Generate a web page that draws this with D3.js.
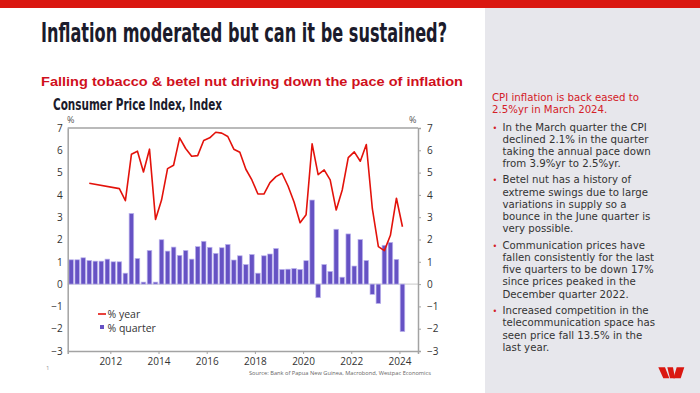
<!DOCTYPE html>
<html>
<head>
<meta charset="utf-8">
<script src="https://d3js.org/d3.v7.min.js"></script>
<style>
  body { margin: 0; background: #fff; }
  svg { display: block; }
  .tick text { font-family: "Open Sans", Lato, sans-serif; font-size: 10px; fill: #333; }
</style>
</head>
<body>
<div id="chart"></div>
<script>
'use strict';

// quarters from June 2010 to March 2024
const quarters = [
  "2010Q2", "2010Q3", "2010Q4",
  "2011Q1", "2011Q2", "2011Q3", "2011Q4",
  "2012Q1", "2012Q2", "2012Q3", "2012Q4",
  "2013Q1", "2013Q2", "2013Q3", "2013Q4",
  "2014Q1", "2014Q2", "2014Q3", "2014Q4",
  "2015Q1", "2015Q2", "2015Q3", "2015Q4",
  "2016Q1", "2016Q2", "2016Q3", "2016Q4",
  "2017Q1", "2017Q2", "2017Q3", "2017Q4",
  "2018Q1", "2018Q2", "2018Q3", "2018Q4",
  "2019Q1", "2019Q2", "2019Q3", "2019Q4",
  "2020Q1", "2020Q2", "2020Q3", "2020Q4",
  "2021Q1", "2021Q2", "2021Q3", "2021Q4",
  "2022Q1", "2022Q2", "2022Q3", "2022Q4",
  "2023Q1", "2023Q2", "2023Q3", "2023Q4",
  "2024Q1"
];

// % quarter (bars)
const pctQuarter = [
  1.09, 1.09, 1.18,
  1.06, 1.03, 1.03, 1.12,
  1.00, 1.00, 0.49, 3.17,
  1.15, 0.09, 1.51, 0.09,
  1.99, 1.48, 1.66, 1.29,
  1.51, 1.12, 1.68, 1.92,
  1.65, 1.38, 1.63, 1.78,
  1.08, 1.27, 0.88, 1.33,
  0.49, 1.27, 1.35, 1.60,
  0.66, 0.67, 0.70, 0.66,
  1.05, 3.77, -0.61, 0.88,
  0.57, 2.46, 0.31, 2.25,
  0.81, 2.00, 1.06, -0.46,
  -0.87, 1.74, 1.87, 1.11,
  -2.13
];

// % year (line), null where not published
const pctYear = [
  null, null, null,
  4.52, null, null, null,
  null, 4.28, 3.74, 5.82,
  5.96, 5.03, 6.05, 2.90,
  3.77, 5.18, 5.33, 6.56,
  6.08, 5.73, 5.76, 6.44,
  6.56, 6.81, 6.77, 6.62,
  6.05, 5.91, 5.15, 4.67,
  4.04, 4.04, 4.55, 4.82,
  4.97, 4.40, 3.68, 2.75,
  3.11, 6.29, 4.91, 5.12,
  4.67, 3.32, 4.22, 5.67,
  5.93, 5.51, 6.26, 3.38,
  1.68, 1.50, 2.19, 3.85,
  2.57
];

const yearTicks = [2012, 2014, 2016, 2018, 2020, 2022, 2024];
const valueTicks = [-3, -2, -1, 0, 1, 2, 3, 4, 5, 6, 7];

const headline = ["CPI inflation is back eased to", "2.5%yr in March 2024."];
const bullets = [
  ["In the March quarter the CPI", "declined 2.1% in the quarter", "taking the annual pace down", "from 3.9%yr to 2.5%yr."],
  ["Betel nut has a history of", "extreme swings due to large", "variations in supply so a", "bounce in the June quarter is", "very possible."],
  ["Communication prices have", "fallen consistently for the last", "five quarters to be down 17%", "since prices peaked in the", "December quarter 2022."],
  ["Increased competition in the", "telecommunication space has", "seen price fall 13.5% in the", "last year."]
];

(function () {
  const W = 700, H = 393;
  const red = "#da1710";
  const bodyFont = "'Open Sans', Lato, sans-serif";
  const panelFont = "'DejaVu Sans', Verdana, sans-serif";

  const svg = d3.select("#chart").append("svg")
    .attr("width", W)
    .attr("height", H);

  svg.append("rect").attr("width", W).attr("height", H).attr("fill", "#fff");

  // right hand grey panel and top red band
  svg.append("rect").attr("x", 485).attr("y", 8).attr("width", 215).attr("height", H - 8).attr("fill", "#e7e7ec");
  svg.append("rect").attr("x", 0).attr("y", 0).attr("width", W).attr("height", 8).attr("fill", red);

  // headings
  svg.append("text")
    .attr("x", 41).attr("y", 42)
    .attr("textLength", 406).attr("lengthAdjust", "spacingAndGlyphs")
    .style("font-family", "'Liberation Sans Narrow', 'DejaVu Sans', sans-serif")
    .style("font-stretch", "condensed")
    .style("font-weight", "bold")
    .style("font-size", "27px")
    .attr("fill", "#1b1b2b")
    .text("Inflation moderated but can it be sustained?");

  svg.append("text")
    .attr("x", 41).attr("y", 86)
    .attr("textLength", 422).attr("lengthAdjust", "spacingAndGlyphs")
    .style("font-family", "'Liberation Sans', Arial, sans-serif")
    .style("font-weight", "bold")
    .style("font-size", "13px")
    .attr("fill", "#d0101c")
    .text("Falling tobacco & betel nut driving down the pace of inflation");

  svg.append("text")
    .attr("x", 53).attr("y", 110)
    .attr("textLength", 169).attr("lengthAdjust", "spacingAndGlyphs")
    .style("font-family", "'Liberation Sans Narrow', 'DejaVu Sans', sans-serif")
    .style("font-stretch", "condensed")
    .style("font-weight", "bold")
    .style("font-size", "15.5px")
    .attr("fill", "#1b1b2b")
    .text("Consumer Price Index, Index");

  // chart scales
  const pL = 67.7, pR = 418, pT = 128, pB = 351;

  const qTime = q => +q.slice(0, 4) + (+q.slice(5) - 0.5) / 4;

  const x = d3.scaleLinear().domain([2010.23, 2024.77]).range([pL, pR]);
  const y = d3.scaleLinear().domain([-3, 7]).range([pB, pT]);

  const rows = quarters.map((q, i) => ({ t: qTime(q), bar: pctQuarter[i], yr: pctYear[i] }));

  // zero line
  svg.append("line")
    .attr("x1", pL).attr("x2", pR)
    .attr("y1", y(0)).attr("y2", y(0))
    .attr("stroke", "#c8c8c8").attr("stroke-width", 1);

  // bars
  const barW = 4.6;
  svg.append("g")
    .selectAll("rect")
    .data(rows)
    .join("rect")
    .attr("x", d => x(d.t) - barW / 2)
    .attr("y", d => y(Math.max(0, d.bar)))
    .attr("width", barW)
    .attr("height", d => Math.abs(y(d.bar) - y(0)))
    .attr("fill", "#6652c4")
    .attr("stroke", "#bdb5ee")
    .attr("stroke-width", 0.7);

  // year-ended line (straight across gaps in the series)
  const line = d3.line()
    .x(d => x(d.t))
    .y(d => y(d.yr));

  svg.append("path")
    .datum(rows.filter(d => d.yr !== null))
    .attr("d", line)
    .attr("fill", "none")
    .attr("stroke", "#e3120b")
    .attr("stroke-width", 1.6)
    .attr("stroke-linejoin", "round");

  // frame + axes
  const axisColor = "#a3a3a3";

  const yLeft = svg.append("g")
    .attr("transform", `translate(${pL},0)`)
    .call(d3.axisLeft(y).tickValues(valueTicks).tickSize(0).tickPadding(5));

  const yRight = svg.append("g")
    .attr("transform", `translate(${pR},0)`)
    .call(d3.axisRight(y).tickValues(valueTicks).tickSize(3).tickPadding(6));

  const xAxis = svg.append("g")
    .attr("transform", `translate(0,${pB})`)
    .call(d3.axisBottom(x).tickValues(yearTicks).tickFormat(d3.format("d")).tickSize(3).tickPadding(4));

  [yLeft, yRight, xAxis].forEach(g => {
    g.select(".domain").attr("stroke", axisColor).attr("stroke-width", 1.5);
    g.selectAll(".tick line").attr("stroke", axisColor);
  });

  // top edge of the frame
  svg.append("line")
    .attr("x1", pL).attr("x2", pR)
    .attr("y1", pT).attr("y2", pT)
    .attr("stroke", axisColor).attr("stroke-width", 1.5);

  svg.append("text").attr("x", 67).attr("y", 123)
    .style("font-family", bodyFont).style("font-size", "9px").attr("fill", "#555").text("%");
  svg.append("text").attr("x", 409).attr("y", 123)
    .style("font-family", bodyFont).style("font-size", "9px").attr("fill", "#555").text("%");

  // legend
  const legend = svg.append("g").style("font-family", bodyFont).style("font-size", "10.5px").attr("fill", "#333");
  legend.append("line").attr("x1", 98).attr("x2", 106).attr("y1", 314).attr("y2", 314)
    .attr("stroke", "#e3120b").attr("stroke-width", 1.6);
  legend.append("text").attr("x", 107.5).attr("y", 318).text("% year");
  legend.append("rect").attr("x", 100).attr("y", 325).attr("width", 4).attr("height", 4).attr("fill", "#6652c4");
  legend.append("text").attr("x", 107.5).attr("y", 332).text("% quarter");

  // footer
  svg.append("text").attr("x", 46).attr("y", 370)
    .style("font-family", bodyFont).style("font-size", "6px").attr("fill", "#999").text("1");
  svg.append("text").attr("x", 431).attr("y", 375).attr("text-anchor", "end")
    .attr("textLength", 182).attr("lengthAdjust", "spacingAndGlyphs")
    .style("font-family", bodyFont).style("font-size", "6px").attr("fill", "#666")
    .text("Source: Bank of Papua New Guinea, Macrobond, Westpac Economics");

  // right panel commentary
  const panel = svg.append("g").style("font-family", panelFont).style("font-size", "10.2px");

  panel.selectAll("text.head")
    .data(headline)
    .join("text")
    .attr("class", "head")
    .attr("x", 492)
    .attr("y", (d, i) => 101 + i * 12.2)
    .attr("fill", "#d42027")
    .text(d => d);

  const bulletTop = [130.5, 183.2, 248.5, 314];
  bullets.forEach((lines, b) => {
    panel.append("text")
      .attr("x", 492.5).attr("y", bulletTop[b])
      .attr("fill", "#d42027")
      .style("font-size", "8px")
      .text("\u2022");
    panel.append("g")
      .selectAll("text")
      .data(lines)
      .join("text")
      .attr("x", 502.5)
      .attr("y", (d, i) => bulletTop[b] + i * 12.3)
      .attr("fill", "#333")
      .text(d => d);
  });

  // Westpac logo
  const logo = [
    [[658.3, 367.3], [665, 367.3], [669.3, 378.3], [663.3, 378.3]],
    [[667.3, 367.3], [673, 367.3], [675, 378.3], [670, 378.3]],
    [[676.7, 367.3], [684.3, 367.3], [680.7, 378.3], [673.3, 378.3]]
  ];
  svg.append("g")
    .selectAll("path")
    .data(logo)
    .join("path")
    .attr("d", d => "M" + d.join("L") + "Z")
    .attr("fill", red);
})();
</script>
</body>
</html>
